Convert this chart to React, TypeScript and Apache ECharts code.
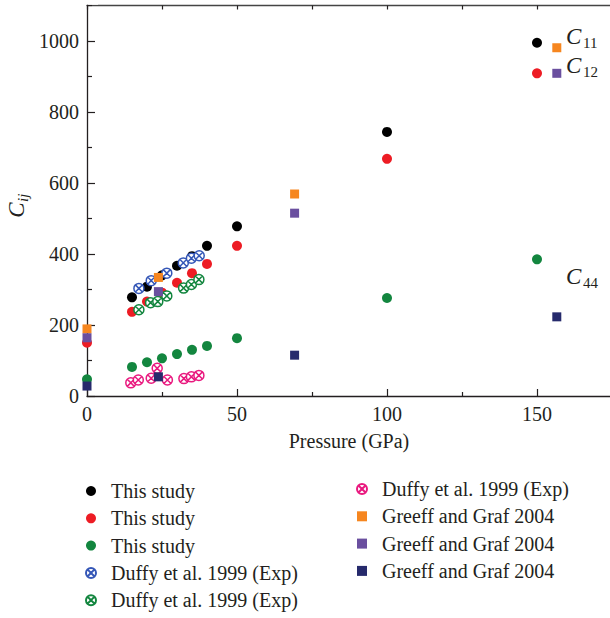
import React, { useEffect, useRef } from 'react';
import * as echarts from 'echarts';

// ---- data (pressure in GPa, elastic constants in GPa) ----
const pressureC11This = [15, 20, 25, 30, 35, 40, 50, 100, 150];
const c11This = [278, 308, 340, 367, 394, 423, 478, 744, 995];
const pressureC12This = [0, 15, 20, 25, 30, 35, 40, 50, 100, 150];
const c12This = [150, 237, 266, 291, 319, 346, 372, 423, 668, 909];
const pressureC44This = [0, 15, 20, 25, 30, 35, 40, 50, 100, 150];
const c44This = [47, 82, 95, 106, 118, 130, 141, 163, 276, 385];

const pressureDuffyC11 = [17.3, 21.4, 26.6, 32.1, 34.8, 37.4];
const c11Duffy = [303, 325, 346, 375, 388, 395];
const pressureDuffyC12 = [17.3, 21.2, 23.6, 26.6, 32.2, 34.8, 37.3];
const c12Duffy = [243, 263, 266, 282, 304, 314, 328];
const pressureDuffyC44 = [14.6, 17.1, 21.4, 23.4, 26.8, 32.3, 34.8, 37.3];
const c44Duffy = [37, 45, 50, 78, 45, 49, 54, 58];

const pressureGreeff = [0, 23.8, 69.2, 156.6];
const c11Greeff = [189, 334, 569, 981];
const c12Greeff = [164, 294, 515, 909];
const c44Greeff = [28, 54, 115, 223];

const xTicks = { min: 0, max: 200, major: 50, top: 25 };
const yTicks = { min: 0, max: 1200, major: 200 };

const legendLabels: Record<string, string> = {
  c11This: 'This study',
  c12This: 'This study',
  c44This: 'This study',
  c11Duffy: 'Duffy et al. 1999 (Exp)',
  c12Duffy: 'Duffy et al. 1999 (Exp)',
  c44Duffy: 'Duffy et al. 1999 (Exp)',
  c11Greeff: 'Greeff and Graf 2004',
  c12Greeff: 'Greeff and Graf 2004',
  c44Greeff: 'Greeff and Graf 2004',
};

const FONT = 'Liberation Serif';
const INK = '#231f20';
const CROSSED =
  'path://M10,0 A10,10 0 1,1 10,20 A10,10 0 1,1 10,0 Z M2.93,2.93 L17.07,17.07 M17.07,2.93 L2.93,17.07';

function pairs(xs: number[], ys: number[]) {
  return xs.map((x, i) => [x, ys[i]]);
}

function filled(id: string, xs: number[], ys: number[], color: string, symbol: string, size: number) {
  return {
    type: 'scatter',
    name: id,
    symbol,
    symbolSize: size,
    itemStyle: { color, opacity: 1 },
    data: pairs(xs, ys),
  };
}

function crossed(id: string, xs: number[], ys: number[], color: string) {
  return {
    type: 'scatter',
    name: id,
    symbol: CROSSED,
    symbolSize: 10,
    itemStyle: { color: '#ffffff', borderColor: color, borderWidth: 1.5, opacity: 1 },
    data: pairs(xs, ys),
  };
}

export default function App() {
  const ref = useRef<HTMLDivElement>(null);
  useEffect(() => {
    if (!ref.current) return;
    const chart = echarts.init(ref.current, null, { renderer: 'svg' });
    const axisLine = { show: true, lineStyle: { color: INK, width: 1.3 } };
    const legendText = { fontFamily: FONT, fontSize: 20, color: INK, lineHeight: 20, padding: [0, 0, 0, 10] };
    const legendBase = {
      orient: 'vertical',
      padding: 0,
      height: 140,
      itemWidth: 10,
      itemHeight: 10,
      itemGap: 7.3,
      selectedMode: false,
      formatter: (n: string) => legendLabels[n],
      textStyle: legendText,
    };
    chart.setOption({
      animation: false,
      backgroundColor: '#ffffff',
      grid: { left: 87, top: -30, width: 600, height: 426, outerBoundsMode: 'none', containLabel: false },
      xAxis: [
        {
          type: 'value',
          min: xTicks.min,
          max: xTicks.max,
          interval: xTicks.major,
          position: 'bottom',
          axisLine,
          axisTick: { inside: true, length: 7, lineStyle: { color: INK, width: 1.2 } },
          minorTick: { show: true, splitNumber: 2, length: 4, lineStyle: { color: INK, width: 1.2 } },
          splitLine: { show: false },
          axisLabel: {
            fontFamily: FONT, fontSize: 20, color: INK, margin: 8, showMaxLabel: false,
            formatter: (v: number) => String(v),
          },
        },
        {
          type: 'value',
          min: xTicks.min,
          max: xTicks.max,
          interval: xTicks.top,
          position: 'top',
          offset: -35.5,
          axisLine: { show: true, onZero: false, lineStyle: { color: '#444', width: 1.3 } },
          axisTick: { inside: true, length: 4, lineStyle: { color: INK, width: 1.2 } },
          axisLabel: { show: false },
          splitLine: { show: false },
        },
      ],
      yAxis: {
        type: 'value',
        min: yTicks.min,
        max: yTicks.max,
        interval: yTicks.major,
        axisLine,
        axisTick: { inside: true, length: 8, lineStyle: { color: INK, width: 1.2 } },
        minorTick: { show: true, splitNumber: 2, length: 5, lineStyle: { color: INK, width: 1.2 } },
        splitLine: { show: false },
        axisLabel: {
          fontFamily: FONT, fontSize: 20, color: INK, margin: 8, showMaxLabel: false,
          formatter: (v: number) => String(v),
        },
      },
      legend: [
        { ...legendBase, data: ['c11This', 'c12This', 'c44This', 'c11Duffy', 'c12Duffy'], left: 85, top: 481 },
        { ...legendBase, data: ['c44Duffy', 'c11Greeff', 'c12Greeff', 'c44Greeff'], left: 356, top: 479 },
      ],
      series: [
        filled('c11This', pressureC11This, c11This, '#000000', 'circle', 10),
        filled('c12This', pressureC12This, c12This, '#ed1c24', 'circle', 10),
        filled('c44This', pressureC44This, c44This, '#13863f', 'circle', 10),
        crossed('c11Duffy', pressureDuffyC11, c11Duffy, '#3557b7'),
        crossed('c12Duffy', pressureDuffyC12, c12Duffy, '#13863f'),
        crossed('c44Duffy', pressureDuffyC44, c44Duffy, '#e9197f'),
        filled('c11Greeff', pressureGreeff, c11Greeff, '#f6861f', 'rect', 9),
        filled('c12Greeff', pressureGreeff, c12Greeff, '#6a4f9f', 'rect', 9),
        filled('c44Greeff', pressureGreeff, c44Greeff, '#262a6c', 'rect', 9),
      ],
      graphic: [
        { type: 'rect', z: 100, shape: { x: 78, y: -40, width: 20, height: 44.7 }, style: { fill: '#ffffff' } },
        {
          type: 'text', z: 100, x: 349, y: 441,
          style: { text: 'Pressure (GPa)', fontFamily: FONT, fontSize: 20, fill: INK, align: 'center', verticalAlign: 'middle' },
        },
        {
          type: 'group', z: 100, x: 16, y: 210, rotation: Math.PI / 2,
          children: [
            { type: 'text', x: 0, y: 0, style: { text: 'C', fontFamily: FONT, fontStyle: 'italic', fontSize: 23, fill: INK, align: 'center', verticalAlign: 'middle' } },
            { type: 'text', x: 8, y: 7, style: { text: 'ij', fontFamily: FONT, fontStyle: 'italic', fontSize: 15, fill: INK, align: 'left', verticalAlign: 'middle' } },
          ],
        },
        { type: 'text', z: 100, x: 566, y: 36, style: { text: 'C', fontFamily: FONT, fontStyle: 'italic', fontSize: 23, fill: INK, align: 'left', verticalAlign: 'middle' } },
        { type: 'text', z: 100, x: 583, y: 43, style: { text: '11', fontFamily: FONT, fontSize: 15, fill: INK, align: 'left', verticalAlign: 'middle' } },
        { type: 'text', z: 100, x: 566, y: 65, style: { text: 'C', fontFamily: FONT, fontStyle: 'italic', fontSize: 23, fill: INK, align: 'left', verticalAlign: 'middle' } },
        { type: 'text', z: 100, x: 583, y: 72, style: { text: '12', fontFamily: FONT, fontSize: 15, fill: INK, align: 'left', verticalAlign: 'middle' } },
        { type: 'text', z: 100, x: 566, y: 276, style: { text: 'C', fontFamily: FONT, fontStyle: 'italic', fontSize: 23, fill: INK, align: 'left', verticalAlign: 'middle' } },
        { type: 'text', z: 100, x: 583, y: 283, style: { text: '44', fontFamily: FONT, fontSize: 15, fill: INK, align: 'left', verticalAlign: 'middle' } },
      ],
    });
    return () => chart.dispose();
  }, []);
  return (
    <div
      ref={ref}
      style={{ position: 'fixed', left: 0, top: 0, width: 610, height: 618, background: '#fff' }}
    />
  );
}
